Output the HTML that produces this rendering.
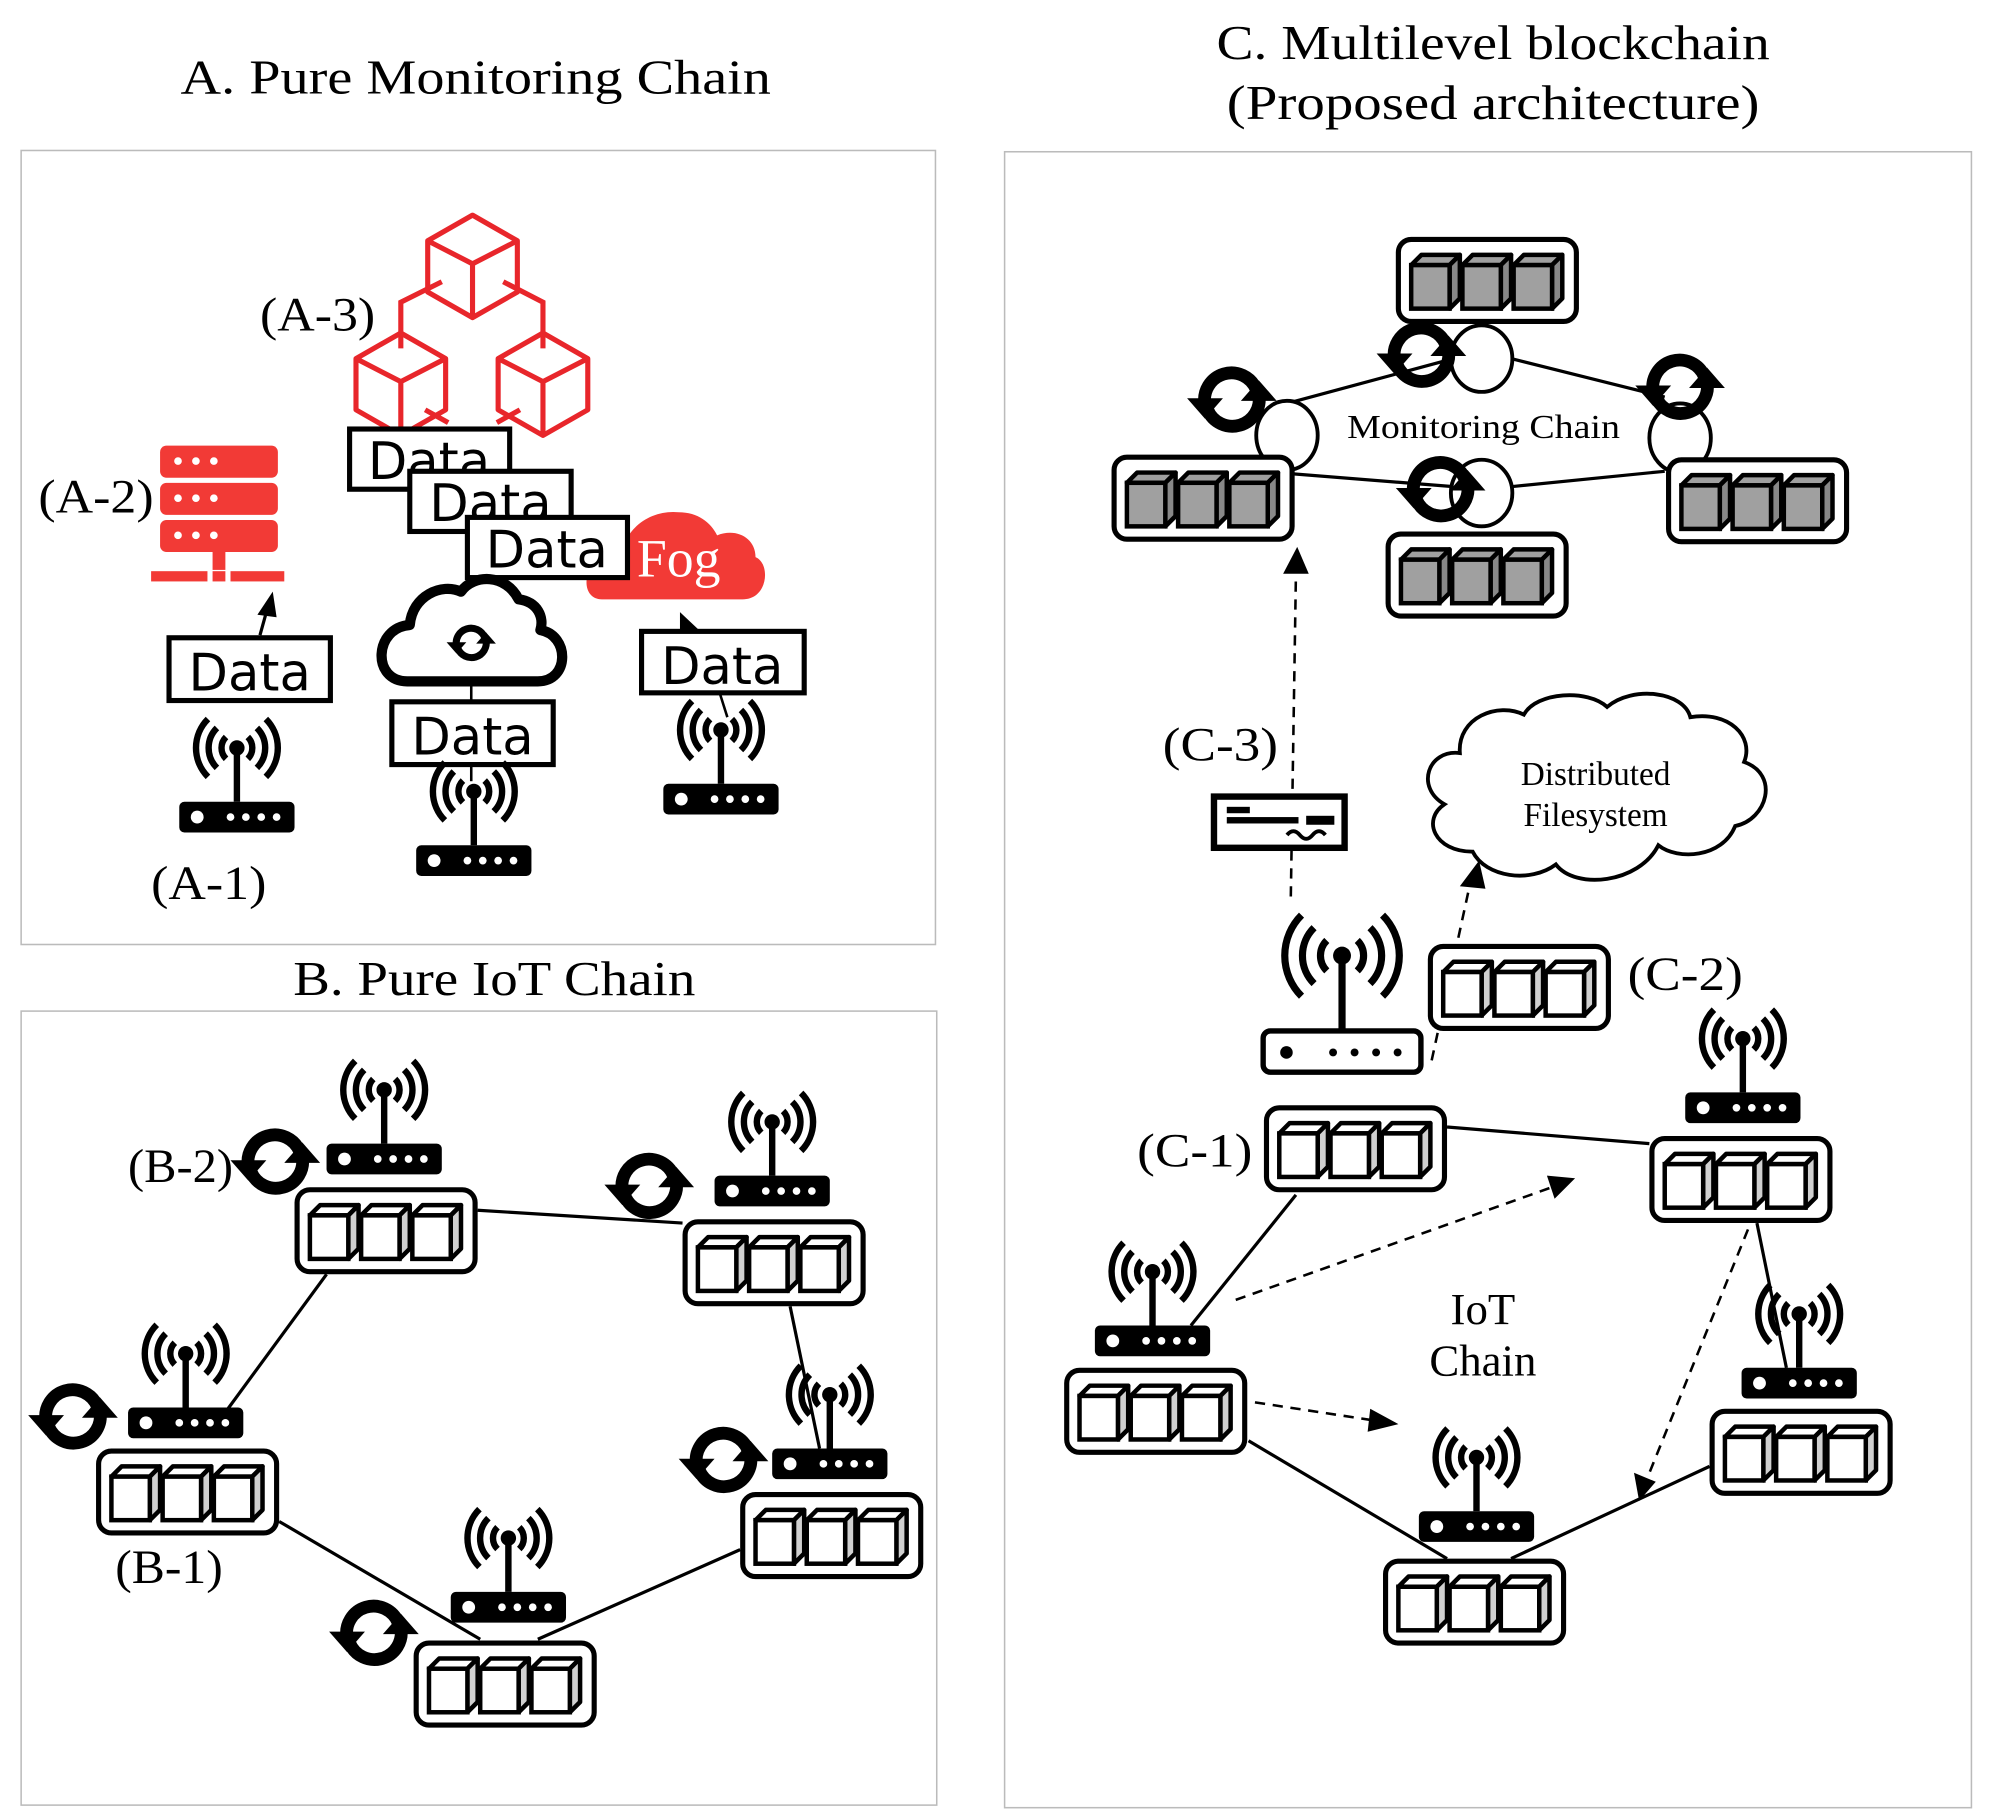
<!DOCTYPE html>
<html><head><meta charset="utf-8"><style>
html,body{margin:0;padding:0;background:#fff;}
svg{display:block;}
.t{font-family:"Liberation Serif",serif;fill:#000;}
.d{font-family:"DejaVu Sans","Liberation Sans",sans-serif;fill:#000;font-size:40px;}
</style></head><body>
<svg width="1990" height="1816" viewBox="0 0 1554 1418" preserveAspectRatio="none" xmlns="http://www.w3.org/2000/svg">
<defs>
<g id="cube">
  <polygon points="0,8 8,0 38,0 30,8" fill="#fff" stroke="#000" stroke-width="3.5" stroke-linejoin="round"/>
  <polygon points="30,8 38,0 38,34 30,42" fill="#d0d0d0" stroke="#000" stroke-width="3.5" stroke-linejoin="round"/>
  <rect x="0" y="8" width="30" height="34" fill="#fff" stroke="#000" stroke-width="3.5"/>
</g>
<g id="gcube">
  <polygon points="0,8 8,0 38,0 30,8" fill="#a0a0a0" stroke="#000" stroke-width="3.5" stroke-linejoin="round"/>
  <polygon points="30,8 38,0 38,34 30,42" fill="#888" stroke="#000" stroke-width="3.5" stroke-linejoin="round"/>
  <rect x="0" y="8" width="30" height="34" fill="#a0a0a0" stroke="#000" stroke-width="3.5"/>
</g>
<g id="blk">
  <rect x="2" y="2" width="139" height="64" rx="10" fill="#fff" stroke="#000" stroke-width="4"/>
  <use href="#cube" x="12" y="14"/><use href="#cube" x="52" y="14"/><use href="#cube" x="92" y="14"/>
</g>
<g id="gblk">
  <rect x="2" y="2" width="139" height="64" rx="10" fill="#fff" stroke="#000" stroke-width="4"/>
  <use href="#gcube" x="12" y="14"/><use href="#gcube" x="52" y="14"/><use href="#gcube" x="92" y="14"/>
</g>
<g id="rt">
  <line x1="45" y1="0" x2="45" y2="-42" stroke="#000" stroke-width="5"/>
  <circle cx="45" cy="-42" r="6" fill="#000"/>
  <g fill="none" stroke="#000" stroke-width="5">
    <path d="M36.5,-50.5 A12,12 0 0 0 36.5,-33.5"/><path d="M53.5,-50.5 A12,12 0 0 1 53.5,-33.5"/>
    <path d="M29.4,-57.6 A22,22 0 0 0 29.4,-26.4"/><path d="M60.6,-57.6 A22,22 0 0 1 60.6,-26.4"/>
    <path d="M22.4,-64.6 A32,32 0 0 0 22.4,-19.4"/><path d="M67.6,-64.6 A32,32 0 0 1 67.6,-19.4"/>
  </g>
  <rect x="0" y="0" width="90" height="24" rx="4" fill="#000"/>
  <circle cx="14" cy="12" r="5" fill="#fff"/>
  <circle cx="40" cy="12" r="3" fill="#fff"/><circle cx="52" cy="12" r="3" fill="#fff"/>
  <circle cx="64" cy="12" r="3" fill="#fff"/><circle cx="76" cy="12" r="3" fill="#fff"/>
</g>
<g id="sync">
  <path d="M-21,4 A21,21 0 0 1 19,-8" fill="none" stroke="#000" stroke-width="10"/>
  <polygon points="-35,-1 -7,-1 -21,15" fill="#000"/>
  <path d="M21,-4 A21,21 0 0 1 -19,8" fill="none" stroke="#000" stroke-width="10"/>
  <polygon points="35,1 7,1 21,-15" fill="#000"/>
</g>
<g id="rcube" fill="none" stroke="#e8262b" stroke-width="4" stroke-linejoin="round">
  <polygon points="0,-40 35,-20 35,20 0,40 -35,20 -35,-20"/>
  <polyline points="-35,-20 0,-2 35,-20"/><line x1="0" y1="-2" x2="0" y2="40"/>
</g>
</defs>

<!-- titles -->
<text class="t" x="141" y="73" font-size="38" textLength="461" lengthAdjust="spacingAndGlyphs">A. Pure Monitoring Chain</text>
<text class="t" x="229" y="777" font-size="38" textLength="314" lengthAdjust="spacingAndGlyphs">B. Pure IoT Chain</text>
<text class="t" x="950" y="46" font-size="38" textLength="432" lengthAdjust="spacingAndGlyphs">C. Multilevel blockchain</text>
<text class="t" x="958" y="93" font-size="38" textLength="416" lengthAdjust="spacingAndGlyphs">(Proposed architecture)</text>

<!-- panels -->
<rect x="16.5" y="117.5" width="714" height="620" fill="none" stroke="#bbb" stroke-width="1.2"/>
<rect x="16.5" y="789.5" width="715" height="620" fill="none" stroke="#bbb" stroke-width="1.2"/>
<rect x="784.5" y="118.5" width="755" height="1293" fill="none" stroke="#bbb" stroke-width="1.2"/>

<!-- Panel A -->
<g>
  <use href="#rcube" x="369" y="208"/>
  <use href="#rcube" x="313" y="300"/>
  <use href="#rcube" x="424" y="300"/>
  <g fill="none" stroke="#e8262b" stroke-width="4">
    <polyline points="345,220 313,236 313,272"/>
    <polyline points="393,220 424,236 424,272"/>
    <line x1="332" y1="320" x2="350" y2="330"/>
    <line x1="406" y1="320" x2="388" y2="330"/>
  </g>
</g>
<text class="t" x="203" y="258" font-size="37" textLength="90" lengthAdjust="spacingAndGlyphs">(A-3)</text>
<!-- server -->
<g fill="#f23a36">
  <rect x="125" y="348" width="92" height="25" rx="5"/>
  <rect x="125" y="377" width="92" height="25" rx="5"/>
  <rect x="125" y="406" width="92" height="25" rx="5"/>
  <rect x="166" y="431" width="10" height="14"/>
  <rect x="118" y="446" width="44" height="8"/><rect x="166" y="446" width="10" height="8"/><rect x="180" y="446" width="42" height="8"/>
</g>
<g fill="#fff">
  <circle cx="139" cy="360" r="3"/><circle cx="153" cy="360" r="3"/><circle cx="167" cy="360" r="3"/>
  <circle cx="139" cy="389" r="3"/><circle cx="153" cy="389" r="3"/><circle cx="167" cy="389" r="3"/>
  <circle cx="139" cy="418" r="3"/><circle cx="153" cy="418" r="3"/><circle cx="167" cy="418" r="3"/>
</g>
<text class="t" x="30" y="400" font-size="37" textLength="90" lengthAdjust="spacingAndGlyphs">(A-2)</text>
<!-- fog cloud -->
<path d="M470,468 C450,468 455,430 485,432 C490,410 510,398 530,400 C545,400 555,408 560,418 C575,412 590,420 590,435 C602,440 600,468 580,468 Z" fill="#f23a36"/>
<text x="530" y="450" font-family="Liberation Serif,serif" font-size="42" fill="#fff" text-anchor="middle">Fog</text>
<!-- stacked data -->
<rect x="273" y="335" width="125" height="47" fill="#fff" stroke="#000" stroke-width="4"/>
<text class="d" x="335" y="374" text-anchor="middle">Data</text>
<rect x="320" y="368" width="126" height="47" fill="#fff" stroke="#000" stroke-width="4"/>
<text class="d" x="383" y="407" text-anchor="middle">Data</text>
<rect x="365" y="404" width="125" height="47" fill="#fff" stroke="#000" stroke-width="4"/>
<text class="d" x="427" y="443" text-anchor="middle">Data</text>
<!-- black cloud -->
<path d="M318,532 C290,532 292,490 320,488 C322,465 345,455 360,462 C370,448 395,448 405,468 C420,470 425,482 422,492 C445,496 445,532 420,532 Z" fill="#fff" stroke="#000" stroke-width="8" stroke-linejoin="round"/>
<g transform="translate(368,502) scale(0.55)"><use href="#sync"/></g>
<line x1="368" y1="532" x2="368" y2="548" stroke="#000" stroke-width="2"/>
<!-- data boxes lower -->
<rect x="132" y="498" width="126" height="49" fill="#fff" stroke="#000" stroke-width="4"/>
<text class="d" x="195" y="539" text-anchor="middle">Data</text>
<rect x="306" y="548" width="126" height="49" fill="#fff" stroke="#000" stroke-width="4"/>
<text class="d" x="369" y="589" text-anchor="middle">Data</text>
<rect x="501" y="493" width="127" height="48" fill="#fff" stroke="#000" stroke-width="4"/>
<text class="d" x="564" y="534" text-anchor="middle">Data</text>
<line x1="203" y1="496" x2="208" y2="478" stroke="#000" stroke-width="2.5"/>
<polygon points="201,480 216,482 213,462" fill="#000"/>
<polygon points="531,478 531,494 548,494" fill="#000"/>
<line x1="368" y1="597" x2="368" y2="610" stroke="#000" stroke-width="2"/>
<line x1="562" y1="541" x2="568" y2="560" stroke="#000" stroke-width="2"/>
<use href="#rt" x="140" y="626"/>
<use href="#rt" x="325" y="660"/>
<use href="#rt" x="518" y="612"/>
<text class="t" x="118" y="702" font-size="37" textLength="90" lengthAdjust="spacingAndGlyphs">(A-1)</text>

<!-- Panel B -->
<g stroke="#000" stroke-width="2.5">
  <line x1="373" y1="945" x2="533" y2="955"/>
  <line x1="255" y1="995" x2="178" y2="1100"/>
  <line x1="617" y1="1020" x2="640" y2="1131"/>
  <line x1="218" y1="1188" x2="375" y2="1280"/>
  <line x1="578" y1="1210" x2="420" y2="1280"/>
</g>
<use href="#rt" x="255" y="893"/><use href="#blk" x="230" y="927"/><use href="#sync" x="215" y="907"/>
<use href="#rt" x="558" y="918"/><use href="#blk" x="533" y="952"/><use href="#sync" x="507" y="926"/>
<use href="#rt" x="100" y="1099"/><use href="#blk" x="75" y="1131"/><use href="#sync" x="57" y="1106"/>
<use href="#rt" x="603" y="1131"/><use href="#blk" x="578" y="1165"/><use href="#sync" x="565" y="1140"/>
<use href="#rt" x="352" y="1243"/><use href="#blk" x="323" y="1281"/><use href="#sync" x="292" y="1275"/>
<text class="t" x="100" y="923" font-size="37" textLength="82" lengthAdjust="spacingAndGlyphs">(B-2)</text>
<text class="t" x="90" y="1236" font-size="37" textLength="84" lengthAdjust="spacingAndGlyphs">(B-1)</text>

<!-- Panel C top -->
<g stroke="#000" stroke-width="2.5">
  <line x1="1005" y1="315" x2="1135" y2="280"/>
  <line x1="1180" y1="280" x2="1300" y2="310"/>
  <line x1="1010" y1="370" x2="1135" y2="380"/>
  <line x1="1180" y1="380" x2="1300" y2="368"/>
</g>
<g fill="#fff" stroke="#000" stroke-width="3">
  <ellipse cx="1157" cy="280" rx="24" ry="26"/>
  <ellipse cx="1005" cy="340" rx="24" ry="27"/>
  <ellipse cx="1312" cy="342" rx="24" ry="27"/>
  <ellipse cx="1157" cy="385" rx="24" ry="26"/>
</g>
<use href="#gblk" x="1090" y="185"/>
<use href="#gblk" x="868" y="355"/>
<use href="#gblk" x="1301" y="357"/>
<use href="#gblk" x="1082" y="415"/>
<use href="#sync" x="1110" y="277"/>
<use href="#sync" x="962" y="312"/>
<use href="#sync" x="1312" y="302"/>
<use href="#sync" x="1125" y="382"/>
<text class="t" x="1052" y="342" font-size="26" textLength="213" lengthAdjust="spacingAndGlyphs">Monitoring Chain</text>

<!-- dashed vertical -->
<line x1="1008" y1="700" x2="1012" y2="448" stroke="#000" stroke-width="2" stroke-dasharray="8,6"/>
<polygon points="1002,448 1022,448 1013,427" fill="#000"/>
<text class="t" x="908" y="594" font-size="37" textLength="90" lengthAdjust="spacingAndGlyphs">(C-3)</text>
<rect x="948" y="622" width="102" height="40" fill="#fff" stroke="#000" stroke-width="5"/>
<rect x="958" y="630" width="18" height="5" fill="#000"/>
<rect x="958" y="638" width="56" height="5" fill="#000"/>
<rect x="1020" y="637" width="22" height="7" fill="#000"/>
<path d="M1005,652 q5,-6 10,0 t10,0 t10,0" fill="none" stroke="#000" stroke-width="3"/>

<!-- distributed FS cloud -->
<path d="M1150,665 C1120,665 1110,640 1128,628 C1105,615 1115,585 1140,588 C1138,560 1170,548 1190,558 C1200,540 1240,538 1255,552 C1275,535 1315,540 1320,560 C1350,555 1370,575 1362,595 C1390,605 1380,640 1355,645 C1345,670 1310,672 1295,660 C1280,690 1230,695 1215,675 C1195,690 1160,685 1150,665 Z" fill="#fff" stroke="#000" stroke-width="3"/>
<text class="t" x="1246" y="613" font-size="26" text-anchor="middle">Distributed</text>
<text class="t" x="1246" y="645" font-size="26" text-anchor="middle">Filesystem</text>
<line x1="1118" y1="828" x2="1148" y2="690" stroke="#000" stroke-width="2" stroke-dasharray="8,6"/>
<polygon points="1140,692 1160,694 1155,672" fill="#000"/>

<!-- big white router C-1 -->
<g transform="translate(985,805) scale(1.4)">
  <line x1="45" y1="0" x2="45" y2="-42" stroke="#000" stroke-width="4"/>
  <circle cx="45" cy="-42" r="5" fill="#000"/>
  <g fill="none" stroke="#000" stroke-width="4">
    <path d="M36.5,-50.5 A12,12 0 0 0 36.5,-33.5"/><path d="M53.5,-50.5 A12,12 0 0 1 53.5,-33.5"/>
    <path d="M29.4,-57.6 A22,22 0 0 0 29.4,-26.4"/><path d="M60.6,-57.6 A22,22 0 0 1 60.6,-26.4"/>
    <path d="M22.4,-64.6 A32,32 0 0 0 22.4,-19.4"/><path d="M67.6,-64.6 A32,32 0 0 1 67.6,-19.4"/>
  </g>
  <rect x="1" y="0" width="88" height="23" rx="4" fill="#fff" stroke="#000" stroke-width="3"/>
  <circle cx="14" cy="12" r="3.5" fill="#000"/>
  <circle cx="40" cy="12" r="2.2" fill="#000"/><circle cx="52" cy="12" r="2.2" fill="#000"/>
  <circle cx="64" cy="12" r="2.2" fill="#000"/><circle cx="76" cy="12" r="2.2" fill="#000"/>
</g>
<use href="#blk" x="1115" y="737"/>
<text class="t" x="1271" y="773" font-size="37" textLength="90" lengthAdjust="spacingAndGlyphs">(C-2)</text>
<use href="#blk" x="987" y="863"/>
<text class="t" x="888" y="911" font-size="37" textLength="90" lengthAdjust="spacingAndGlyphs">(C-1)</text>

<!-- IoT chain -->
<g stroke="#000" stroke-width="2.5">
  <line x1="1130" y1="880" x2="1288" y2="893"/>
  <line x1="1012" y1="933" x2="930" y2="1035"/>
  <line x1="975" y1="1125" x2="1130" y2="1217"/>
  <line x1="1180" y1="1217" x2="1335" y2="1145"/>
  <line x1="1372" y1="955" x2="1395" y2="1068"/>
</g>
<g stroke="#000" stroke-width="2" stroke-dasharray="8,6">
  <line x1="965" y1="1015" x2="1212" y2="927"/>
  <line x1="980" y1="1095" x2="1072" y2="1109"/>
  <line x1="1365" y1="960" x2="1286" y2="1155"/>
</g>
<polygon points="1230,920 1208,918 1214,936" fill="#000"/>
<polygon points="1092,1112 1070,1100 1068,1118" fill="#000"/>
<polygon points="1280,1172 1276,1150 1293,1157" fill="#000"/>
<use href="#rt" x="1316" y="853"/><use href="#blk" x="1288" y="887"/>
<use href="#rt" x="855" y="1035"/><use href="#blk" x="831" y="1068"/>
<use href="#rt" x="1360" y="1068"/><use href="#blk" x="1335" y="1100"/>
<use href="#rt" x="1108" y="1180"/><use href="#blk" x="1080" y="1217"/>
<text class="t" x="1158" y="1034" font-size="35" text-anchor="middle">IoT</text>
<text class="t" x="1158" y="1074" font-size="35" text-anchor="middle">Chain</text>
</svg>
</body></html>
